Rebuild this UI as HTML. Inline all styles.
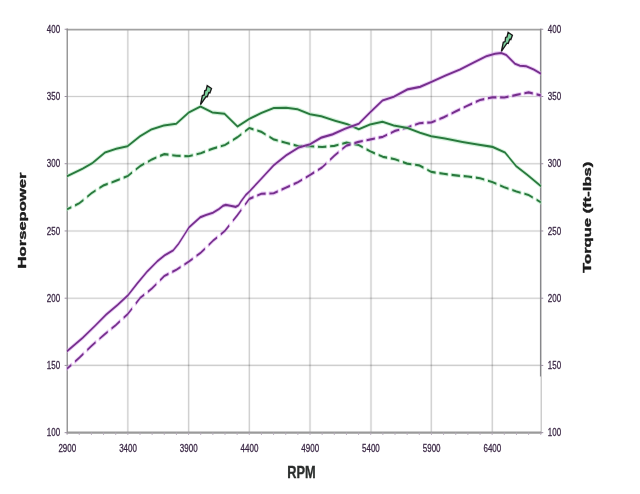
<!DOCTYPE html>
<html><head><meta charset="utf-8"><title>Dyno chart</title>
<style>
html,body{margin:0;padding:0;background:#fff;}
body{width:640px;height:494px;overflow:hidden;font-family:"Liberation Sans",sans-serif;}
svg{display:block;}
text{font-family:"Liberation Sans",sans-serif;}
.tk{font-size:11.2px;fill:#3a2745;stroke:#3a2745;stroke-width:0.3px;}
</style></head><body>
<svg width="640" height="494" viewBox="0 0 640 494">
<rect width="640" height="494" fill="#ffffff"/>
<line x1="127.85" y1="29.27" x2="127.85" y2="432.65" stroke="#000" stroke-opacity="0.04" stroke-width="2.6"/>
<line x1="127.85" y1="29.27" x2="127.85" y2="432.65" stroke="#000" stroke-opacity="0.185" stroke-width="1"/>
<line x1="188.70" y1="29.27" x2="188.70" y2="432.65" stroke="#000" stroke-opacity="0.04" stroke-width="2.6"/>
<line x1="188.70" y1="29.27" x2="188.70" y2="432.65" stroke="#000" stroke-opacity="0.185" stroke-width="1"/>
<line x1="249.30" y1="29.27" x2="249.30" y2="432.65" stroke="#000" stroke-opacity="0.04" stroke-width="2.6"/>
<line x1="249.30" y1="29.27" x2="249.30" y2="432.65" stroke="#000" stroke-opacity="0.185" stroke-width="1"/>
<line x1="310.00" y1="29.27" x2="310.00" y2="432.65" stroke="#000" stroke-opacity="0.04" stroke-width="2.6"/>
<line x1="310.00" y1="29.27" x2="310.00" y2="432.65" stroke="#000" stroke-opacity="0.185" stroke-width="1"/>
<line x1="371.00" y1="29.27" x2="371.00" y2="432.65" stroke="#000" stroke-opacity="0.04" stroke-width="2.6"/>
<line x1="371.00" y1="29.27" x2="371.00" y2="432.65" stroke="#000" stroke-opacity="0.185" stroke-width="1"/>
<line x1="431.25" y1="29.27" x2="431.25" y2="432.65" stroke="#000" stroke-opacity="0.04" stroke-width="2.6"/>
<line x1="431.25" y1="29.27" x2="431.25" y2="432.65" stroke="#000" stroke-opacity="0.185" stroke-width="1"/>
<line x1="492.25" y1="29.27" x2="492.25" y2="432.65" stroke="#000" stroke-opacity="0.04" stroke-width="2.6"/>
<line x1="492.25" y1="29.27" x2="492.25" y2="432.65" stroke="#000" stroke-opacity="0.185" stroke-width="1"/>
<line x1="67.13" y1="96.50" x2="540.75" y2="96.50" stroke="#000" stroke-opacity="0.04" stroke-width="2.6"/>
<line x1="67.13" y1="96.50" x2="540.75" y2="96.50" stroke="#000" stroke-opacity="0.155" stroke-width="1.1"/>
<line x1="67.13" y1="163.73" x2="540.75" y2="163.73" stroke="#000" stroke-opacity="0.04" stroke-width="2.6"/>
<line x1="67.13" y1="163.73" x2="540.75" y2="163.73" stroke="#000" stroke-opacity="0.155" stroke-width="1.1"/>
<line x1="67.13" y1="230.96" x2="540.75" y2="230.96" stroke="#000" stroke-opacity="0.04" stroke-width="2.6"/>
<line x1="67.13" y1="230.96" x2="540.75" y2="230.96" stroke="#000" stroke-opacity="0.155" stroke-width="1.1"/>
<line x1="67.13" y1="298.19" x2="540.75" y2="298.19" stroke="#000" stroke-opacity="0.04" stroke-width="2.6"/>
<line x1="67.13" y1="298.19" x2="540.75" y2="298.19" stroke="#000" stroke-opacity="0.155" stroke-width="1.1"/>
<line x1="67.13" y1="365.42" x2="540.75" y2="365.42" stroke="#000" stroke-opacity="0.04" stroke-width="2.6"/>
<line x1="67.13" y1="365.42" x2="540.75" y2="365.42" stroke="#000" stroke-opacity="0.155" stroke-width="1.1"/>
<line x1="66.63" y1="29.6" x2="541.55" y2="29.6" stroke="#a2a2a2" stroke-width="1.8"/>
<line x1="67.13" y1="432.65" x2="541.55" y2="432.65" stroke="#9a9a9a" stroke-width="2.2"/>
<line x1="67.22999999999999" y1="28.47" x2="67.22999999999999" y2="433.95" stroke="#8a8a8a" stroke-width="1.3"/>
<line x1="541.45" y1="28.8" x2="541.45" y2="433.65" stroke="#cfcfcf" stroke-width="1"/>
<line x1="540.5" y1="28.8" x2="540.5" y2="376.6" stroke="#87878b" stroke-width="1.15"/>
<line x1="540.7" y1="376.6" x2="540.7" y2="432.65" stroke="#000" stroke-opacity="0.1" stroke-width="1"/>
<line x1="64.63" y1="29.27" x2="67.13" y2="29.27" stroke="#9a8fa0" stroke-width="1"/>
<line x1="540.75" y1="29.27" x2="543.25" y2="29.27" stroke="#9a8fa0" stroke-width="1"/>
<line x1="64.63" y1="96.50" x2="67.13" y2="96.50" stroke="#9a8fa0" stroke-width="1"/>
<line x1="540.75" y1="96.50" x2="543.25" y2="96.50" stroke="#9a8fa0" stroke-width="1"/>
<line x1="64.63" y1="163.73" x2="67.13" y2="163.73" stroke="#9a8fa0" stroke-width="1"/>
<line x1="540.75" y1="163.73" x2="543.25" y2="163.73" stroke="#9a8fa0" stroke-width="1"/>
<line x1="64.63" y1="230.96" x2="67.13" y2="230.96" stroke="#9a8fa0" stroke-width="1"/>
<line x1="540.75" y1="230.96" x2="543.25" y2="230.96" stroke="#9a8fa0" stroke-width="1"/>
<line x1="64.63" y1="298.19" x2="67.13" y2="298.19" stroke="#9a8fa0" stroke-width="1"/>
<line x1="540.75" y1="298.19" x2="543.25" y2="298.19" stroke="#9a8fa0" stroke-width="1"/>
<line x1="64.63" y1="365.42" x2="67.13" y2="365.42" stroke="#9a8fa0" stroke-width="1"/>
<line x1="540.75" y1="365.42" x2="543.25" y2="365.42" stroke="#9a8fa0" stroke-width="1"/>
<line x1="64.63" y1="432.65" x2="67.13" y2="432.65" stroke="#9a8fa0" stroke-width="1"/>
<line x1="540.75" y1="432.65" x2="543.25" y2="432.65" stroke="#9a8fa0" stroke-width="1"/>
<line x1="67.13" y1="432.65" x2="67.13" y2="434.95" stroke="#b8aebd" stroke-width="1"/>
<line x1="79.27" y1="432.65" x2="79.27" y2="434.95" stroke="#b8aebd" stroke-width="1"/>
<line x1="91.42" y1="432.65" x2="91.42" y2="434.95" stroke="#b8aebd" stroke-width="1"/>
<line x1="103.56" y1="432.65" x2="103.56" y2="434.95" stroke="#b8aebd" stroke-width="1"/>
<line x1="115.71" y1="432.65" x2="115.71" y2="434.95" stroke="#b8aebd" stroke-width="1"/>
<line x1="127.85" y1="432.65" x2="127.85" y2="434.95" stroke="#b8aebd" stroke-width="1"/>
<line x1="139.99" y1="432.65" x2="139.99" y2="434.95" stroke="#b8aebd" stroke-width="1"/>
<line x1="152.14" y1="432.65" x2="152.14" y2="434.95" stroke="#b8aebd" stroke-width="1"/>
<line x1="164.28" y1="432.65" x2="164.28" y2="434.95" stroke="#b8aebd" stroke-width="1"/>
<line x1="176.43" y1="432.65" x2="176.43" y2="434.95" stroke="#b8aebd" stroke-width="1"/>
<line x1="188.57" y1="432.65" x2="188.57" y2="434.95" stroke="#b8aebd" stroke-width="1"/>
<line x1="200.71" y1="432.65" x2="200.71" y2="434.95" stroke="#b8aebd" stroke-width="1"/>
<line x1="212.86" y1="432.65" x2="212.86" y2="434.95" stroke="#b8aebd" stroke-width="1"/>
<line x1="225.00" y1="432.65" x2="225.00" y2="434.95" stroke="#b8aebd" stroke-width="1"/>
<line x1="237.15" y1="432.65" x2="237.15" y2="434.95" stroke="#b8aebd" stroke-width="1"/>
<line x1="249.29" y1="432.65" x2="249.29" y2="434.95" stroke="#b8aebd" stroke-width="1"/>
<line x1="261.43" y1="432.65" x2="261.43" y2="434.95" stroke="#b8aebd" stroke-width="1"/>
<line x1="273.58" y1="432.65" x2="273.58" y2="434.95" stroke="#b8aebd" stroke-width="1"/>
<line x1="285.72" y1="432.65" x2="285.72" y2="434.95" stroke="#b8aebd" stroke-width="1"/>
<line x1="297.87" y1="432.65" x2="297.87" y2="434.95" stroke="#b8aebd" stroke-width="1"/>
<line x1="310.01" y1="432.65" x2="310.01" y2="434.95" stroke="#b8aebd" stroke-width="1"/>
<line x1="322.15" y1="432.65" x2="322.15" y2="434.95" stroke="#b8aebd" stroke-width="1"/>
<line x1="334.30" y1="432.65" x2="334.30" y2="434.95" stroke="#b8aebd" stroke-width="1"/>
<line x1="346.44" y1="432.65" x2="346.44" y2="434.95" stroke="#b8aebd" stroke-width="1"/>
<line x1="358.59" y1="432.65" x2="358.59" y2="434.95" stroke="#b8aebd" stroke-width="1"/>
<line x1="370.73" y1="432.65" x2="370.73" y2="434.95" stroke="#b8aebd" stroke-width="1"/>
<line x1="382.87" y1="432.65" x2="382.87" y2="434.95" stroke="#b8aebd" stroke-width="1"/>
<line x1="395.02" y1="432.65" x2="395.02" y2="434.95" stroke="#b8aebd" stroke-width="1"/>
<line x1="407.16" y1="432.65" x2="407.16" y2="434.95" stroke="#b8aebd" stroke-width="1"/>
<line x1="419.31" y1="432.65" x2="419.31" y2="434.95" stroke="#b8aebd" stroke-width="1"/>
<line x1="431.45" y1="432.65" x2="431.45" y2="434.95" stroke="#b8aebd" stroke-width="1"/>
<line x1="443.59" y1="432.65" x2="443.59" y2="434.95" stroke="#b8aebd" stroke-width="1"/>
<line x1="455.74" y1="432.65" x2="455.74" y2="434.95" stroke="#b8aebd" stroke-width="1"/>
<line x1="467.88" y1="432.65" x2="467.88" y2="434.95" stroke="#b8aebd" stroke-width="1"/>
<line x1="480.03" y1="432.65" x2="480.03" y2="434.95" stroke="#b8aebd" stroke-width="1"/>
<line x1="492.17" y1="432.65" x2="492.17" y2="434.95" stroke="#b8aebd" stroke-width="1"/>
<line x1="504.31" y1="432.65" x2="504.31" y2="434.95" stroke="#b8aebd" stroke-width="1"/>
<line x1="516.46" y1="432.65" x2="516.46" y2="434.95" stroke="#b8aebd" stroke-width="1"/>
<line x1="528.60" y1="432.65" x2="528.60" y2="434.95" stroke="#b8aebd" stroke-width="1"/>
<line x1="540.75" y1="432.65" x2="540.75" y2="434.95" stroke="#b8aebd" stroke-width="1"/>
<g transform="scale(0.5,1)">
<polyline points="134.26,209.24 142.56,207.22" fill="none" stroke="#b4e8c2" stroke-width="4.3" stroke-linejoin="round" stroke-linecap="round" stroke-opacity="0.6"/>
<polyline points="150.25,205.34 158.55,203.31 166.85,199.89" fill="none" stroke="#b4e8c2" stroke-width="4.3" stroke-linejoin="round" stroke-linecap="round" stroke-opacity="0.6"/>
<polyline points="174.54,196.72 182.84,193.30 191.14,190.60" fill="none" stroke="#b4e8c2" stroke-width="4.3" stroke-linejoin="round" stroke-linecap="round" stroke-opacity="0.6"/>
<polyline points="198.82,188.09 207.12,185.38 215.42,183.86" fill="none" stroke="#b4e8c2" stroke-width="4.3" stroke-linejoin="round" stroke-linecap="round" stroke-opacity="0.6"/>
<polyline points="223.11,182.45 231.41,180.93 239.71,179.22" fill="none" stroke="#b4e8c2" stroke-width="4.3" stroke-linejoin="round" stroke-linecap="round" stroke-opacity="0.6"/>
<polyline points="247.40,177.65 255.70,175.94 264.00,172.59" fill="none" stroke="#b4e8c2" stroke-width="4.3" stroke-linejoin="round" stroke-linecap="round" stroke-opacity="0.6"/>
<polyline points="271.69,169.48 279.99,166.13 288.29,163.81" fill="none" stroke="#b4e8c2" stroke-width="4.3" stroke-linejoin="round" stroke-linecap="round" stroke-opacity="0.6"/>
<polyline points="295.98,161.66 304.28,159.33 312.58,157.55" fill="none" stroke="#b4e8c2" stroke-width="4.3" stroke-linejoin="round" stroke-linecap="round" stroke-opacity="0.6"/>
<polyline points="320.26,155.90 328.56,154.12 336.86,154.68" fill="none" stroke="#b4e8c2" stroke-width="4.3" stroke-linejoin="round" stroke-linecap="round" stroke-opacity="0.6"/>
<polyline points="344.55,155.20 352.85,155.76 361.15,155.92" fill="none" stroke="#b4e8c2" stroke-width="4.3" stroke-linejoin="round" stroke-linecap="round" stroke-opacity="0.6"/>
<polyline points="368.84,156.08 377.14,156.24 385.44,155.21" fill="none" stroke="#b4e8c2" stroke-width="4.3" stroke-linejoin="round" stroke-linecap="round" stroke-opacity="0.6"/>
<polyline points="393.13,154.25 401.43,153.21 409.73,151.63" fill="none" stroke="#b4e8c2" stroke-width="4.3" stroke-linejoin="round" stroke-linecap="round" stroke-opacity="0.6"/>
<polyline points="417.42,150.16 425.72,148.57 434.02,147.35" fill="none" stroke="#b4e8c2" stroke-width="4.3" stroke-linejoin="round" stroke-linecap="round" stroke-opacity="0.6"/>
<polyline points="441.70,146.22 450.00,145.00 458.30,142.40" fill="none" stroke="#b4e8c2" stroke-width="4.3" stroke-linejoin="round" stroke-linecap="round" stroke-opacity="0.6"/>
<polyline points="465.99,140.00 474.29,137.40 482.59,134.19" fill="none" stroke="#b4e8c2" stroke-width="4.3" stroke-linejoin="round" stroke-linecap="round" stroke-opacity="0.6"/>
<polyline points="490.28,131.22 498.58,128.01 506.88,129.33" fill="none" stroke="#b4e8c2" stroke-width="4.3" stroke-linejoin="round" stroke-linecap="round" stroke-opacity="0.6"/>
<polyline points="514.57,130.56 522.87,131.88 531.17,134.44" fill="none" stroke="#b4e8c2" stroke-width="4.3" stroke-linejoin="round" stroke-linecap="round" stroke-opacity="0.6"/>
<polyline points="538.86,136.82 547.16,139.38 555.46,140.52" fill="none" stroke="#b4e8c2" stroke-width="4.3" stroke-linejoin="round" stroke-linecap="round" stroke-opacity="0.6"/>
<polyline points="563.14,141.57 571.44,142.70 579.74,143.83" fill="none" stroke="#b4e8c2" stroke-width="4.3" stroke-linejoin="round" stroke-linecap="round" stroke-opacity="0.6"/>
<polyline points="587.43,144.88 595.73,146.01 604.03,146.09" fill="none" stroke="#b4e8c2" stroke-width="4.3" stroke-linejoin="round" stroke-linecap="round" stroke-opacity="0.6"/>
<polyline points="611.72,146.17 620.02,146.25 628.32,146.50" fill="none" stroke="#b4e8c2" stroke-width="4.3" stroke-linejoin="round" stroke-linecap="round" stroke-opacity="0.6"/>
<polyline points="636.01,146.73 644.31,146.98 652.61,146.58" fill="none" stroke="#b4e8c2" stroke-width="4.3" stroke-linejoin="round" stroke-linecap="round" stroke-opacity="0.6"/>
<polyline points="660.30,146.22 668.60,145.82 676.90,144.72" fill="none" stroke="#b4e8c2" stroke-width="4.3" stroke-linejoin="round" stroke-linecap="round" stroke-opacity="0.6"/>
<polyline points="684.58,143.70 692.88,142.60 701.18,143.43" fill="none" stroke="#b4e8c2" stroke-width="4.3" stroke-linejoin="round" stroke-linecap="round" stroke-opacity="0.6"/>
<polyline points="708.87,144.20 717.17,145.03 725.47,147.26" fill="none" stroke="#b4e8c2" stroke-width="4.3" stroke-linejoin="round" stroke-linecap="round" stroke-opacity="0.6"/>
<polyline points="733.16,149.34 741.46,151.57 749.76,153.36" fill="none" stroke="#b4e8c2" stroke-width="4.3" stroke-linejoin="round" stroke-linecap="round" stroke-opacity="0.6"/>
<polyline points="757.45,155.02 765.75,156.82 774.05,157.63" fill="none" stroke="#b4e8c2" stroke-width="4.3" stroke-linejoin="round" stroke-linecap="round" stroke-opacity="0.6"/>
<polyline points="781.74,158.39 790.04,159.21 798.34,160.72" fill="none" stroke="#b4e8c2" stroke-width="4.3" stroke-linejoin="round" stroke-linecap="round" stroke-opacity="0.6"/>
<polyline points="806.02,162.12 814.32,163.63 822.62,164.23" fill="none" stroke="#b4e8c2" stroke-width="4.3" stroke-linejoin="round" stroke-linecap="round" stroke-opacity="0.6"/>
<polyline points="830.31,164.80 838.61,165.40 846.91,167.63" fill="none" stroke="#b4e8c2" stroke-width="4.3" stroke-linejoin="round" stroke-linecap="round" stroke-opacity="0.6"/>
<polyline points="854.60,169.70 862.90,171.93 871.20,172.56" fill="none" stroke="#b4e8c2" stroke-width="4.3" stroke-linejoin="round" stroke-linecap="round" stroke-opacity="0.6"/>
<polyline points="878.89,173.15 887.19,173.79 895.49,174.35" fill="none" stroke="#b4e8c2" stroke-width="4.3" stroke-linejoin="round" stroke-linecap="round" stroke-opacity="0.6"/>
<polyline points="903.18,174.87 911.48,175.43 919.78,175.81" fill="none" stroke="#b4e8c2" stroke-width="4.3" stroke-linejoin="round" stroke-linecap="round" stroke-opacity="0.6"/>
<polyline points="927.46,176.15 935.76,176.53 944.06,177.12" fill="none" stroke="#b4e8c2" stroke-width="4.3" stroke-linejoin="round" stroke-linecap="round" stroke-opacity="0.6"/>
<polyline points="951.75,177.68 960.05,178.28 968.35,179.56" fill="none" stroke="#b4e8c2" stroke-width="4.3" stroke-linejoin="round" stroke-linecap="round" stroke-opacity="0.6"/>
<polyline points="976.04,180.74 984.34,182.02 992.64,183.80" fill="none" stroke="#b4e8c2" stroke-width="4.3" stroke-linejoin="round" stroke-linecap="round" stroke-opacity="0.6"/>
<polyline points="1000.33,185.45 1008.63,187.23 1016.93,188.70" fill="none" stroke="#b4e8c2" stroke-width="4.3" stroke-linejoin="round" stroke-linecap="round" stroke-opacity="0.6"/>
<polyline points="1024.62,190.06 1032.92,191.53 1041.22,192.70" fill="none" stroke="#b4e8c2" stroke-width="4.3" stroke-linejoin="round" stroke-linecap="round" stroke-opacity="0.6"/>
<polyline points="1048.90,193.78 1057.20,194.95 1065.50,197.47" fill="none" stroke="#b4e8c2" stroke-width="4.3" stroke-linejoin="round" stroke-linecap="round" stroke-opacity="0.6"/>
<polyline points="1073.20,199.80 1081.50,202.32" fill="none" stroke="#b4e8c2" stroke-width="4.3" stroke-linejoin="round" stroke-linecap="round" stroke-opacity="0.6"/>
<polyline points="134.26,209.24 142.56,207.22" fill="none" stroke="#29793d" stroke-width="2.15" stroke-linejoin="round"/>
<polyline points="150.25,205.34 158.55,203.31 166.85,199.89" fill="none" stroke="#29793d" stroke-width="2.15" stroke-linejoin="round"/>
<polyline points="174.54,196.72 182.84,193.30 191.14,190.60" fill="none" stroke="#29793d" stroke-width="2.15" stroke-linejoin="round"/>
<polyline points="198.82,188.09 207.12,185.38 215.42,183.86" fill="none" stroke="#29793d" stroke-width="2.15" stroke-linejoin="round"/>
<polyline points="223.11,182.45 231.41,180.93 239.71,179.22" fill="none" stroke="#29793d" stroke-width="2.15" stroke-linejoin="round"/>
<polyline points="247.40,177.65 255.70,175.94 264.00,172.59" fill="none" stroke="#29793d" stroke-width="2.15" stroke-linejoin="round"/>
<polyline points="271.69,169.48 279.99,166.13 288.29,163.81" fill="none" stroke="#29793d" stroke-width="2.15" stroke-linejoin="round"/>
<polyline points="295.98,161.66 304.28,159.33 312.58,157.55" fill="none" stroke="#29793d" stroke-width="2.15" stroke-linejoin="round"/>
<polyline points="320.26,155.90 328.56,154.12 336.86,154.68" fill="none" stroke="#29793d" stroke-width="2.15" stroke-linejoin="round"/>
<polyline points="344.55,155.20 352.85,155.76 361.15,155.92" fill="none" stroke="#29793d" stroke-width="2.15" stroke-linejoin="round"/>
<polyline points="368.84,156.08 377.14,156.24 385.44,155.21" fill="none" stroke="#29793d" stroke-width="2.15" stroke-linejoin="round"/>
<polyline points="393.13,154.25 401.43,153.21 409.73,151.63" fill="none" stroke="#29793d" stroke-width="2.15" stroke-linejoin="round"/>
<polyline points="417.42,150.16 425.72,148.57 434.02,147.35" fill="none" stroke="#29793d" stroke-width="2.15" stroke-linejoin="round"/>
<polyline points="441.70,146.22 450.00,145.00 458.30,142.40" fill="none" stroke="#29793d" stroke-width="2.15" stroke-linejoin="round"/>
<polyline points="465.99,140.00 474.29,137.40 482.59,134.19" fill="none" stroke="#29793d" stroke-width="2.15" stroke-linejoin="round"/>
<polyline points="490.28,131.22 498.58,128.01 506.88,129.33" fill="none" stroke="#29793d" stroke-width="2.15" stroke-linejoin="round"/>
<polyline points="514.57,130.56 522.87,131.88 531.17,134.44" fill="none" stroke="#29793d" stroke-width="2.15" stroke-linejoin="round"/>
<polyline points="538.86,136.82 547.16,139.38 555.46,140.52" fill="none" stroke="#29793d" stroke-width="2.15" stroke-linejoin="round"/>
<polyline points="563.14,141.57 571.44,142.70 579.74,143.83" fill="none" stroke="#29793d" stroke-width="2.15" stroke-linejoin="round"/>
<polyline points="587.43,144.88 595.73,146.01 604.03,146.09" fill="none" stroke="#29793d" stroke-width="2.15" stroke-linejoin="round"/>
<polyline points="611.72,146.17 620.02,146.25 628.32,146.50" fill="none" stroke="#29793d" stroke-width="2.15" stroke-linejoin="round"/>
<polyline points="636.01,146.73 644.31,146.98 652.61,146.58" fill="none" stroke="#29793d" stroke-width="2.15" stroke-linejoin="round"/>
<polyline points="660.30,146.22 668.60,145.82 676.90,144.72" fill="none" stroke="#29793d" stroke-width="2.15" stroke-linejoin="round"/>
<polyline points="684.58,143.70 692.88,142.60 701.18,143.43" fill="none" stroke="#29793d" stroke-width="2.15" stroke-linejoin="round"/>
<polyline points="708.87,144.20 717.17,145.03 725.47,147.26" fill="none" stroke="#29793d" stroke-width="2.15" stroke-linejoin="round"/>
<polyline points="733.16,149.34 741.46,151.57 749.76,153.36" fill="none" stroke="#29793d" stroke-width="2.15" stroke-linejoin="round"/>
<polyline points="757.45,155.02 765.75,156.82 774.05,157.63" fill="none" stroke="#29793d" stroke-width="2.15" stroke-linejoin="round"/>
<polyline points="781.74,158.39 790.04,159.21 798.34,160.72" fill="none" stroke="#29793d" stroke-width="2.15" stroke-linejoin="round"/>
<polyline points="806.02,162.12 814.32,163.63 822.62,164.23" fill="none" stroke="#29793d" stroke-width="2.15" stroke-linejoin="round"/>
<polyline points="830.31,164.80 838.61,165.40 846.91,167.63" fill="none" stroke="#29793d" stroke-width="2.15" stroke-linejoin="round"/>
<polyline points="854.60,169.70 862.90,171.93 871.20,172.56" fill="none" stroke="#29793d" stroke-width="2.15" stroke-linejoin="round"/>
<polyline points="878.89,173.15 887.19,173.79 895.49,174.35" fill="none" stroke="#29793d" stroke-width="2.15" stroke-linejoin="round"/>
<polyline points="903.18,174.87 911.48,175.43 919.78,175.81" fill="none" stroke="#29793d" stroke-width="2.15" stroke-linejoin="round"/>
<polyline points="927.46,176.15 935.76,176.53 944.06,177.12" fill="none" stroke="#29793d" stroke-width="2.15" stroke-linejoin="round"/>
<polyline points="951.75,177.68 960.05,178.28 968.35,179.56" fill="none" stroke="#29793d" stroke-width="2.15" stroke-linejoin="round"/>
<polyline points="976.04,180.74 984.34,182.02 992.64,183.80" fill="none" stroke="#29793d" stroke-width="2.15" stroke-linejoin="round"/>
<polyline points="1000.33,185.45 1008.63,187.23 1016.93,188.70" fill="none" stroke="#29793d" stroke-width="2.15" stroke-linejoin="round"/>
<polyline points="1024.62,190.06 1032.92,191.53 1041.22,192.70" fill="none" stroke="#29793d" stroke-width="2.15" stroke-linejoin="round"/>
<polyline points="1048.90,193.78 1057.20,194.95 1065.50,197.47" fill="none" stroke="#29793d" stroke-width="2.15" stroke-linejoin="round"/>
<polyline points="1073.20,199.80 1081.50,202.32" fill="none" stroke="#29793d" stroke-width="2.15" stroke-linejoin="round"/>
</g>

<g transform="scale(0.5,1)">
<polyline points="134.26,368.64 142.56,364.90" fill="none" stroke="#dcaaee" stroke-width="4.3" stroke-linejoin="round" stroke-linecap="round" stroke-opacity="0.6"/>
<polyline points="150.25,361.43 158.55,357.69 166.85,353.67" fill="none" stroke="#dcaaee" stroke-width="4.3" stroke-linejoin="round" stroke-linecap="round" stroke-opacity="0.6"/>
<polyline points="174.54,349.95 182.84,345.93 191.14,342.26" fill="none" stroke="#dcaaee" stroke-width="4.3" stroke-linejoin="round" stroke-linecap="round" stroke-opacity="0.6"/>
<polyline points="198.82,338.86 207.12,335.18 215.42,331.76" fill="none" stroke="#dcaaee" stroke-width="4.3" stroke-linejoin="round" stroke-linecap="round" stroke-opacity="0.6"/>
<polyline points="223.11,328.58 231.41,325.16 239.71,321.32" fill="none" stroke="#dcaaee" stroke-width="4.3" stroke-linejoin="round" stroke-linecap="round" stroke-opacity="0.6"/>
<polyline points="247.40,317.77 255.70,313.94 264.00,308.53" fill="none" stroke="#dcaaee" stroke-width="4.3" stroke-linejoin="round" stroke-linecap="round" stroke-opacity="0.6"/>
<polyline points="271.69,303.52 279.99,298.11 288.29,294.75" fill="none" stroke="#dcaaee" stroke-width="4.3" stroke-linejoin="round" stroke-linecap="round" stroke-opacity="0.6"/>
<polyline points="295.98,291.65 304.28,288.29 312.58,284.10" fill="none" stroke="#dcaaee" stroke-width="4.3" stroke-linejoin="round" stroke-linecap="round" stroke-opacity="0.6"/>
<polyline points="320.26,280.22 328.56,276.03 336.86,273.89" fill="none" stroke="#dcaaee" stroke-width="4.3" stroke-linejoin="round" stroke-linecap="round" stroke-opacity="0.6"/>
<polyline points="344.55,271.91 352.85,269.77 361.15,267.01" fill="none" stroke="#dcaaee" stroke-width="4.3" stroke-linejoin="round" stroke-linecap="round" stroke-opacity="0.6"/>
<polyline points="368.84,264.46 377.14,261.71 385.44,258.67" fill="none" stroke="#dcaaee" stroke-width="4.3" stroke-linejoin="round" stroke-linecap="round" stroke-opacity="0.6"/>
<polyline points="393.13,255.84 401.43,252.80 409.73,248.72" fill="none" stroke="#dcaaee" stroke-width="4.3" stroke-linejoin="round" stroke-linecap="round" stroke-opacity="0.6"/>
<polyline points="417.42,244.94 425.72,240.86 434.02,237.40" fill="none" stroke="#dcaaee" stroke-width="4.3" stroke-linejoin="round" stroke-linecap="round" stroke-opacity="0.6"/>
<polyline points="441.70,234.20 450.00,230.75 458.30,225.53" fill="none" stroke="#dcaaee" stroke-width="4.3" stroke-linejoin="round" stroke-linecap="round" stroke-opacity="0.6"/>
<polyline points="465.99,220.70 474.29,215.49 482.59,209.81" fill="none" stroke="#dcaaee" stroke-width="4.3" stroke-linejoin="round" stroke-linecap="round" stroke-opacity="0.6"/>
<polyline points="490.28,204.56 498.58,198.88 506.88,197.13" fill="none" stroke="#dcaaee" stroke-width="4.3" stroke-linejoin="round" stroke-linecap="round" stroke-opacity="0.6"/>
<polyline points="514.57,195.51 522.87,193.76 531.17,193.60" fill="none" stroke="#dcaaee" stroke-width="4.3" stroke-linejoin="round" stroke-linecap="round" stroke-opacity="0.6"/>
<polyline points="538.86,193.46 547.16,193.30 555.46,191.38" fill="none" stroke="#dcaaee" stroke-width="4.3" stroke-linejoin="round" stroke-linecap="round" stroke-opacity="0.6"/>
<polyline points="563.14,189.60 571.44,187.68 579.74,185.84" fill="none" stroke="#dcaaee" stroke-width="4.3" stroke-linejoin="round" stroke-linecap="round" stroke-opacity="0.6"/>
<polyline points="587.43,184.13 595.73,182.28 604.03,179.79" fill="none" stroke="#dcaaee" stroke-width="4.3" stroke-linejoin="round" stroke-linecap="round" stroke-opacity="0.6"/>
<polyline points="611.72,177.48 620.02,174.99 628.32,172.39" fill="none" stroke="#dcaaee" stroke-width="4.3" stroke-linejoin="round" stroke-linecap="round" stroke-opacity="0.6"/>
<polyline points="636.01,169.98 644.31,167.38 652.61,163.41" fill="none" stroke="#dcaaee" stroke-width="4.3" stroke-linejoin="round" stroke-linecap="round" stroke-opacity="0.6"/>
<polyline points="660.30,159.72 668.60,155.74 676.90,152.28" fill="none" stroke="#dcaaee" stroke-width="4.3" stroke-linejoin="round" stroke-linecap="round" stroke-opacity="0.6"/>
<polyline points="684.58,149.08 692.88,145.62 701.18,144.34" fill="none" stroke="#dcaaee" stroke-width="4.3" stroke-linejoin="round" stroke-linecap="round" stroke-opacity="0.6"/>
<polyline points="708.87,143.15 717.17,141.87 725.47,141.01" fill="none" stroke="#dcaaee" stroke-width="4.3" stroke-linejoin="round" stroke-linecap="round" stroke-opacity="0.6"/>
<polyline points="733.16,140.21 741.46,139.35 749.76,138.48" fill="none" stroke="#dcaaee" stroke-width="4.3" stroke-linejoin="round" stroke-linecap="round" stroke-opacity="0.6"/>
<polyline points="757.45,137.68 765.75,136.81 774.05,134.79" fill="none" stroke="#dcaaee" stroke-width="4.3" stroke-linejoin="round" stroke-linecap="round" stroke-opacity="0.6"/>
<polyline points="781.74,132.92 790.04,130.90 798.34,129.77" fill="none" stroke="#dcaaee" stroke-width="4.3" stroke-linejoin="round" stroke-linecap="round" stroke-opacity="0.6"/>
<polyline points="806.02,128.72 814.32,127.59 822.62,126.10" fill="none" stroke="#dcaaee" stroke-width="4.3" stroke-linejoin="round" stroke-linecap="round" stroke-opacity="0.6"/>
<polyline points="830.31,124.71 838.61,123.22 846.91,122.94" fill="none" stroke="#dcaaee" stroke-width="4.3" stroke-linejoin="round" stroke-linecap="round" stroke-opacity="0.6"/>
<polyline points="854.60,122.69 862.90,122.42 871.20,120.68" fill="none" stroke="#dcaaee" stroke-width="4.3" stroke-linejoin="round" stroke-linecap="round" stroke-opacity="0.6"/>
<polyline points="878.89,119.07 887.19,117.34 895.49,115.30" fill="none" stroke="#dcaaee" stroke-width="4.3" stroke-linejoin="round" stroke-linecap="round" stroke-opacity="0.6"/>
<polyline points="903.18,113.42 911.48,111.38 919.78,109.38" fill="none" stroke="#dcaaee" stroke-width="4.3" stroke-linejoin="round" stroke-linecap="round" stroke-opacity="0.6"/>
<polyline points="927.46,107.52 935.76,105.52 944.06,103.65" fill="none" stroke="#dcaaee" stroke-width="4.3" stroke-linejoin="round" stroke-linecap="round" stroke-opacity="0.6"/>
<polyline points="951.75,101.91 960.05,100.04 968.35,99.11" fill="none" stroke="#dcaaee" stroke-width="4.3" stroke-linejoin="round" stroke-linecap="round" stroke-opacity="0.6"/>
<polyline points="976.04,98.25 984.34,97.32 992.64,97.37" fill="none" stroke="#dcaaee" stroke-width="4.3" stroke-linejoin="round" stroke-linecap="round" stroke-opacity="0.6"/>
<polyline points="1000.33,97.43 1008.63,97.49 1016.93,96.62" fill="none" stroke="#dcaaee" stroke-width="4.3" stroke-linejoin="round" stroke-linecap="round" stroke-opacity="0.6"/>
<polyline points="1024.62,95.81 1032.92,94.94 1041.22,94.04" fill="none" stroke="#dcaaee" stroke-width="4.3" stroke-linejoin="round" stroke-linecap="round" stroke-opacity="0.6"/>
<polyline points="1048.90,93.21 1057.20,92.31 1065.50,93.37" fill="none" stroke="#dcaaee" stroke-width="4.3" stroke-linejoin="round" stroke-linecap="round" stroke-opacity="0.6"/>
<polyline points="1073.20,94.35 1081.50,95.41" fill="none" stroke="#dcaaee" stroke-width="4.3" stroke-linejoin="round" stroke-linecap="round" stroke-opacity="0.6"/>
<polyline points="134.26,368.64 142.56,364.90" fill="none" stroke="#762f8d" stroke-width="2.15" stroke-linejoin="round"/>
<polyline points="150.25,361.43 158.55,357.69 166.85,353.67" fill="none" stroke="#762f8d" stroke-width="2.15" stroke-linejoin="round"/>
<polyline points="174.54,349.95 182.84,345.93 191.14,342.26" fill="none" stroke="#762f8d" stroke-width="2.15" stroke-linejoin="round"/>
<polyline points="198.82,338.86 207.12,335.18 215.42,331.76" fill="none" stroke="#762f8d" stroke-width="2.15" stroke-linejoin="round"/>
<polyline points="223.11,328.58 231.41,325.16 239.71,321.32" fill="none" stroke="#762f8d" stroke-width="2.15" stroke-linejoin="round"/>
<polyline points="247.40,317.77 255.70,313.94 264.00,308.53" fill="none" stroke="#762f8d" stroke-width="2.15" stroke-linejoin="round"/>
<polyline points="271.69,303.52 279.99,298.11 288.29,294.75" fill="none" stroke="#762f8d" stroke-width="2.15" stroke-linejoin="round"/>
<polyline points="295.98,291.65 304.28,288.29 312.58,284.10" fill="none" stroke="#762f8d" stroke-width="2.15" stroke-linejoin="round"/>
<polyline points="320.26,280.22 328.56,276.03 336.86,273.89" fill="none" stroke="#762f8d" stroke-width="2.15" stroke-linejoin="round"/>
<polyline points="344.55,271.91 352.85,269.77 361.15,267.01" fill="none" stroke="#762f8d" stroke-width="2.15" stroke-linejoin="round"/>
<polyline points="368.84,264.46 377.14,261.71 385.44,258.67" fill="none" stroke="#762f8d" stroke-width="2.15" stroke-linejoin="round"/>
<polyline points="393.13,255.84 401.43,252.80 409.73,248.72" fill="none" stroke="#762f8d" stroke-width="2.15" stroke-linejoin="round"/>
<polyline points="417.42,244.94 425.72,240.86 434.02,237.40" fill="none" stroke="#762f8d" stroke-width="2.15" stroke-linejoin="round"/>
<polyline points="441.70,234.20 450.00,230.75 458.30,225.53" fill="none" stroke="#762f8d" stroke-width="2.15" stroke-linejoin="round"/>
<polyline points="465.99,220.70 474.29,215.49 482.59,209.81" fill="none" stroke="#762f8d" stroke-width="2.15" stroke-linejoin="round"/>
<polyline points="490.28,204.56 498.58,198.88 506.88,197.13" fill="none" stroke="#762f8d" stroke-width="2.15" stroke-linejoin="round"/>
<polyline points="514.57,195.51 522.87,193.76 531.17,193.60" fill="none" stroke="#762f8d" stroke-width="2.15" stroke-linejoin="round"/>
<polyline points="538.86,193.46 547.16,193.30 555.46,191.38" fill="none" stroke="#762f8d" stroke-width="2.15" stroke-linejoin="round"/>
<polyline points="563.14,189.60 571.44,187.68 579.74,185.84" fill="none" stroke="#762f8d" stroke-width="2.15" stroke-linejoin="round"/>
<polyline points="587.43,184.13 595.73,182.28 604.03,179.79" fill="none" stroke="#762f8d" stroke-width="2.15" stroke-linejoin="round"/>
<polyline points="611.72,177.48 620.02,174.99 628.32,172.39" fill="none" stroke="#762f8d" stroke-width="2.15" stroke-linejoin="round"/>
<polyline points="636.01,169.98 644.31,167.38 652.61,163.41" fill="none" stroke="#762f8d" stroke-width="2.15" stroke-linejoin="round"/>
<polyline points="660.30,159.72 668.60,155.74 676.90,152.28" fill="none" stroke="#762f8d" stroke-width="2.15" stroke-linejoin="round"/>
<polyline points="684.58,149.08 692.88,145.62 701.18,144.34" fill="none" stroke="#762f8d" stroke-width="2.15" stroke-linejoin="round"/>
<polyline points="708.87,143.15 717.17,141.87 725.47,141.01" fill="none" stroke="#762f8d" stroke-width="2.15" stroke-linejoin="round"/>
<polyline points="733.16,140.21 741.46,139.35 749.76,138.48" fill="none" stroke="#762f8d" stroke-width="2.15" stroke-linejoin="round"/>
<polyline points="757.45,137.68 765.75,136.81 774.05,134.79" fill="none" stroke="#762f8d" stroke-width="2.15" stroke-linejoin="round"/>
<polyline points="781.74,132.92 790.04,130.90 798.34,129.77" fill="none" stroke="#762f8d" stroke-width="2.15" stroke-linejoin="round"/>
<polyline points="806.02,128.72 814.32,127.59 822.62,126.10" fill="none" stroke="#762f8d" stroke-width="2.15" stroke-linejoin="round"/>
<polyline points="830.31,124.71 838.61,123.22 846.91,122.94" fill="none" stroke="#762f8d" stroke-width="2.15" stroke-linejoin="round"/>
<polyline points="854.60,122.69 862.90,122.42 871.20,120.68" fill="none" stroke="#762f8d" stroke-width="2.15" stroke-linejoin="round"/>
<polyline points="878.89,119.07 887.19,117.34 895.49,115.30" fill="none" stroke="#762f8d" stroke-width="2.15" stroke-linejoin="round"/>
<polyline points="903.18,113.42 911.48,111.38 919.78,109.38" fill="none" stroke="#762f8d" stroke-width="2.15" stroke-linejoin="round"/>
<polyline points="927.46,107.52 935.76,105.52 944.06,103.65" fill="none" stroke="#762f8d" stroke-width="2.15" stroke-linejoin="round"/>
<polyline points="951.75,101.91 960.05,100.04 968.35,99.11" fill="none" stroke="#762f8d" stroke-width="2.15" stroke-linejoin="round"/>
<polyline points="976.04,98.25 984.34,97.32 992.64,97.37" fill="none" stroke="#762f8d" stroke-width="2.15" stroke-linejoin="round"/>
<polyline points="1000.33,97.43 1008.63,97.49 1016.93,96.62" fill="none" stroke="#762f8d" stroke-width="2.15" stroke-linejoin="round"/>
<polyline points="1024.62,95.81 1032.92,94.94 1041.22,94.04" fill="none" stroke="#762f8d" stroke-width="2.15" stroke-linejoin="round"/>
<polyline points="1048.90,93.21 1057.20,92.31 1065.50,93.37" fill="none" stroke="#762f8d" stroke-width="2.15" stroke-linejoin="round"/>
<polyline points="1073.20,94.35 1081.50,95.41" fill="none" stroke="#762f8d" stroke-width="2.15" stroke-linejoin="round"/>
</g>

<g transform="scale(0.5,1)">
<polyline points="134.00,176.25 165.00,168.75 185.00,163.00 210.00,152.50 232.50,148.75 255.00,146.25 280.00,136.25 302.50,129.50 327.50,125.50 352.50,123.75 377.50,112.50 401.00,106.50 425.00,112.50 449.00,113.75 475.00,126.50 499.00,118.75 522.50,113.00 547.50,108.00 572.50,107.70 595.00,109.20 620.00,114.25 642.50,116.20 670.00,120.70 695.00,124.30 717.50,129.25 740.00,124.50 765.00,121.75 787.50,125.50 815.00,128.00 840.00,132.75 862.50,136.25 890.00,138.50 925.00,142.00 955.00,144.50 985.00,146.90 1010.00,152.50 1032.50,166.25 1055.00,175.00 1082.00,186.25" fill="none" stroke="#b4e8c2" stroke-width="4.3" stroke-linejoin="round" stroke-opacity="0.6"/>
<polyline points="134.00,176.25 165.00,168.75 185.00,163.00 210.00,152.50 232.50,148.75 255.00,146.25 280.00,136.25 302.50,129.50 327.50,125.50 352.50,123.75 377.50,112.50 401.00,106.50 425.00,112.50 449.00,113.75 475.00,126.50 499.00,118.75 522.50,113.00 547.50,108.00 572.50,107.70 595.00,109.20 620.00,114.25 642.50,116.20 670.00,120.70 695.00,124.30 717.50,129.25 740.00,124.50 765.00,121.75 787.50,125.50 815.00,128.00 840.00,132.75 862.50,136.25 890.00,138.50 925.00,142.00 955.00,144.50 985.00,146.90 1010.00,152.50 1032.50,166.25 1055.00,175.00 1082.00,186.25" fill="none" stroke="#29793d" stroke-width="2.15" stroke-linejoin="round"/>
</g>

<g transform="scale(0.5,1)">
<polyline points="134.00,351.25 165.00,338.00 190.00,325.90 212.50,314.50 235.00,305.00 255.40,295.60 274.40,283.50 295.00,271.20 314.00,261.60 329.50,255.30 346.80,250.20 357.00,243.90 369.00,234.50 377.70,227.60 400.00,217.40 412.00,215.00 425.80,212.80 438.00,209.00 445.60,205.90 451.60,204.90 460.60,205.70 471.40,206.90 477.40,205.20 482.00,201.40 491.00,195.30 498.60,191.60 521.40,179.40 547.50,165.20 572.50,155.30 597.50,147.50 620.00,144.30 642.50,137.60 665.00,134.40 690.00,128.80 717.50,123.75 740.00,112.50 765.00,100.50 787.50,96.80 815.00,89.40 840.00,86.90 862.50,82.00 890.00,75.75 920.00,69.50 947.50,62.50 972.50,56.25 990.00,53.75 1002.50,53.00 1012.50,55.00 1030.00,63.75 1040.00,65.75 1052.50,66.25 1067.50,69.50 1082.00,73.75" fill="none" stroke="#dcaaee" stroke-width="4.3" stroke-linejoin="round" stroke-opacity="0.6"/>
<polyline points="134.00,351.25 165.00,338.00 190.00,325.90 212.50,314.50 235.00,305.00 255.40,295.60 274.40,283.50 295.00,271.20 314.00,261.60 329.50,255.30 346.80,250.20 357.00,243.90 369.00,234.50 377.70,227.60 400.00,217.40 412.00,215.00 425.80,212.80 438.00,209.00 445.60,205.90 451.60,204.90 460.60,205.70 471.40,206.90 477.40,205.20 482.00,201.40 491.00,195.30 498.60,191.60 521.40,179.40 547.50,165.20 572.50,155.30 597.50,147.50 620.00,144.30 642.50,137.60 665.00,134.40 690.00,128.80 717.50,123.75 740.00,112.50 765.00,100.50 787.50,96.80 815.00,89.40 840.00,86.90 862.50,82.00 890.00,75.75 920.00,69.50 947.50,62.50 972.50,56.25 990.00,53.75 1002.50,53.00 1012.50,55.00 1030.00,63.75 1040.00,65.75 1052.50,66.25 1067.50,69.50 1082.00,73.75" fill="none" stroke="#762f8d" stroke-width="2.15" stroke-linejoin="round"/>
</g>

<polygon points="200.50,104.70 202.40,95.60 204.20,94.90 204.70,90.80 206.10,90.20 207.20,85.60 211.50,88.50 209.90,92.90 208.80,92.60 207.30,96.70 206.10,96.50" fill="#7ed29e" stroke="#1a1a1a" stroke-width="1.35" stroke-linejoin="miter"/>
<polygon points="501.40,51.40 503.30,42.30 505.10,41.60 505.60,37.50 507.00,36.90 508.10,32.30 512.40,35.20 510.80,39.60 509.70,39.30 508.20,43.40 507.00,43.20" fill="#7ed29e" stroke="#1a1a1a" stroke-width="1.35" stroke-linejoin="miter"/>
<g opacity="0.999">
<text x="84.20" y="33.02" text-anchor="end" class="tk" transform="scale(0.715,1)">400</text>
<text x="766.15" y="33.02" text-anchor="start" class="tk" transform="scale(0.715,1)">400</text>
<text x="84.20" y="100.25" text-anchor="end" class="tk" transform="scale(0.715,1)">350</text>
<text x="766.15" y="100.25" text-anchor="start" class="tk" transform="scale(0.715,1)">350</text>
<text x="84.20" y="167.48" text-anchor="end" class="tk" transform="scale(0.715,1)">300</text>
<text x="766.15" y="167.48" text-anchor="start" class="tk" transform="scale(0.715,1)">300</text>
<text x="84.20" y="234.71" text-anchor="end" class="tk" transform="scale(0.715,1)">250</text>
<text x="766.15" y="234.71" text-anchor="start" class="tk" transform="scale(0.715,1)">250</text>
<text x="84.20" y="301.94" text-anchor="end" class="tk" transform="scale(0.715,1)">200</text>
<text x="766.15" y="301.94" text-anchor="start" class="tk" transform="scale(0.715,1)">200</text>
<text x="84.20" y="369.17" text-anchor="end" class="tk" transform="scale(0.715,1)">150</text>
<text x="766.15" y="369.17" text-anchor="start" class="tk" transform="scale(0.715,1)">150</text>
<text x="84.20" y="436.40" text-anchor="end" class="tk" transform="scale(0.715,1)">100</text>
<text x="766.15" y="436.40" text-anchor="start" class="tk" transform="scale(0.715,1)">100</text>
<text x="94.17" y="452.0" text-anchor="middle" class="tk" transform="scale(0.715,1)">2900</text>
<text x="179.09" y="452.0" text-anchor="middle" class="tk" transform="scale(0.715,1)">3400</text>
<text x="264.01" y="452.0" text-anchor="middle" class="tk" transform="scale(0.715,1)">3900</text>
<text x="348.94" y="452.0" text-anchor="middle" class="tk" transform="scale(0.715,1)">4400</text>
<text x="433.86" y="452.0" text-anchor="middle" class="tk" transform="scale(0.715,1)">4900</text>
<text x="518.78" y="452.0" text-anchor="middle" class="tk" transform="scale(0.715,1)">5400</text>
<text x="603.71" y="452.0" text-anchor="middle" class="tk" transform="scale(0.715,1)">5900</text>
<text x="688.63" y="452.0" text-anchor="middle" class="tk" transform="scale(0.715,1)">6400</text>
<text x="407.43" y="477.7" text-anchor="middle" transform="scale(0.74,1)" style="font-weight:bold;font-size:17.3px;fill:#2a2d2c;stroke:#2a2d2c;stroke-width:0.35px">RPM</text>
<text transform="translate(26.3,220.5) rotate(-90) scale(1.0,0.7)" text-anchor="middle" style="font-weight:bold;font-size:16.6px;fill:#1c1c1c;stroke:#1c1c1c;stroke-width:0.55px;stroke-linejoin:round">Horsepower</text>
<text transform="translate(590.7,217.3) rotate(-90) scale(1.0,0.7)" text-anchor="middle" style="font-weight:bold;font-size:16.6px;fill:#1c1c1c;stroke:#1c1c1c;stroke-width:0.55px;stroke-linejoin:round">Torque (ft-lbs)</text>
</g>
</svg>
</body></html>
